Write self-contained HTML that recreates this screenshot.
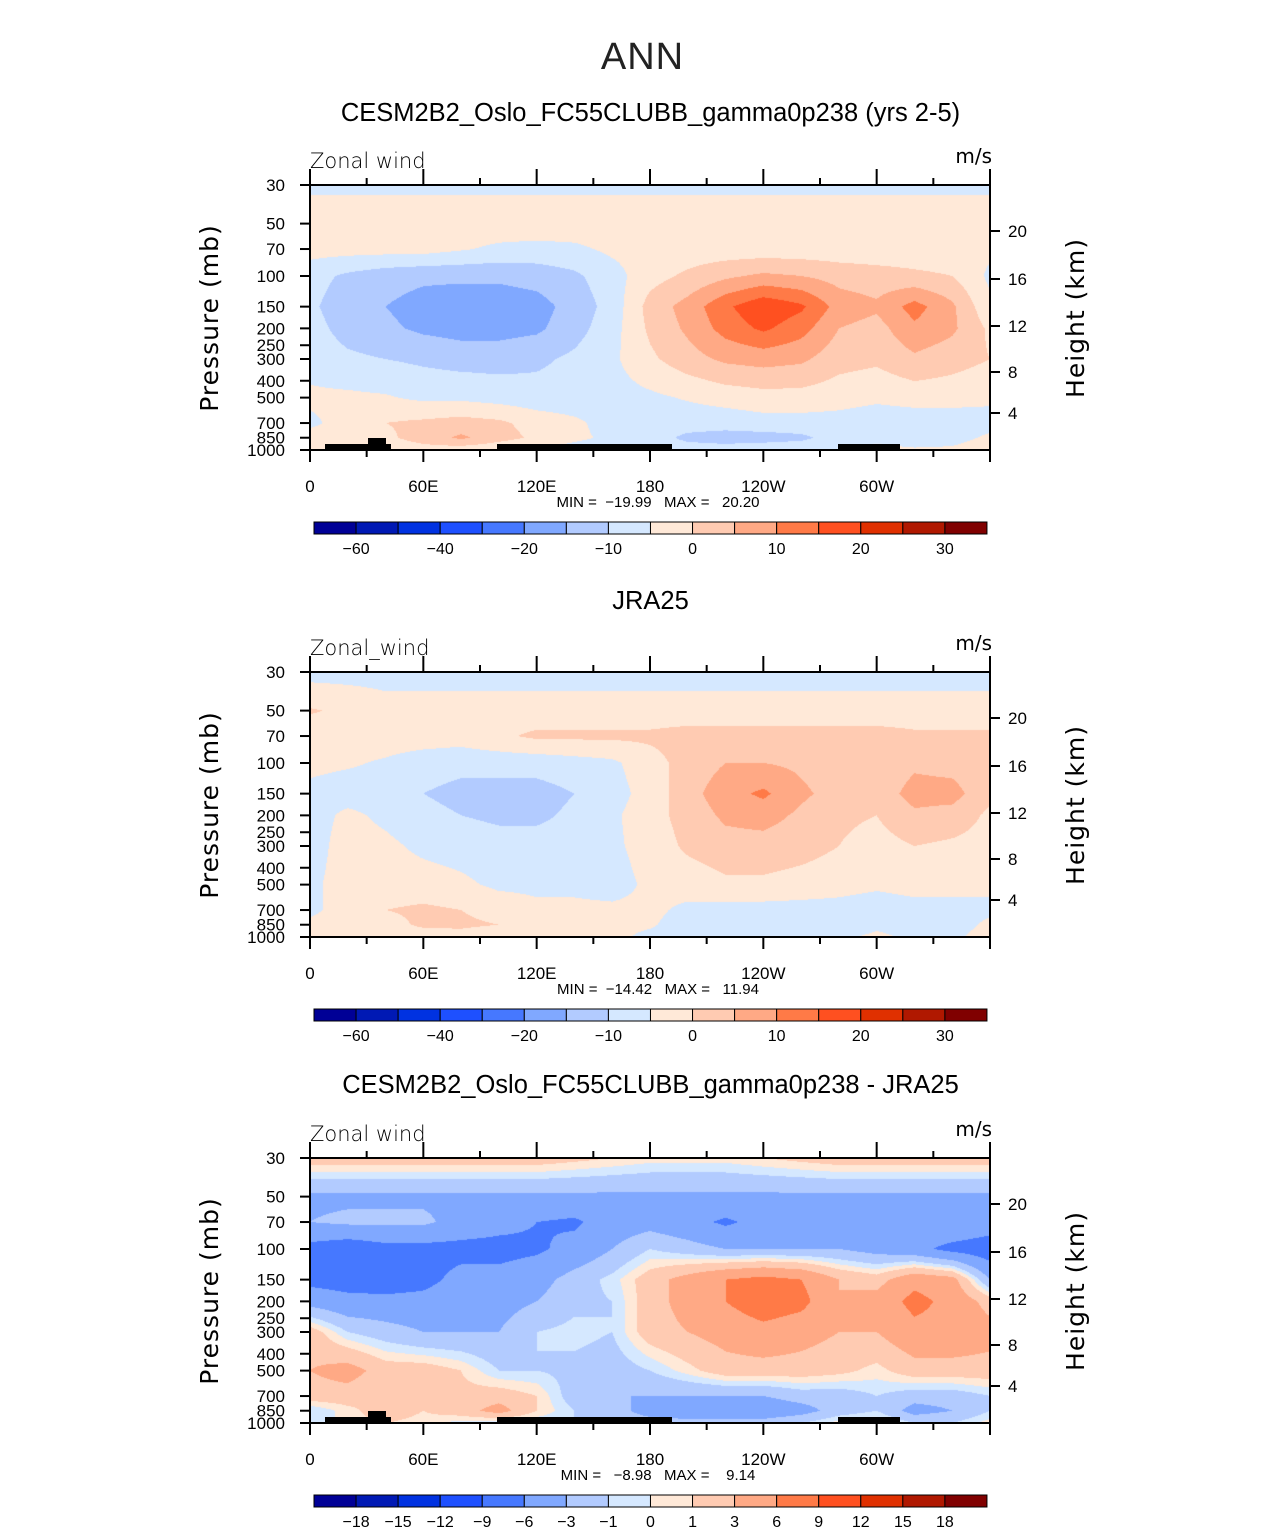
<!DOCTYPE html>
<html><head><meta charset="utf-8">
<style>
body{margin:0;background:#fff;width:1285px;height:1531px;position:relative;overflow:hidden;font-family:"Liberation Sans",sans-serif;}
.t{position:absolute;white-space:nowrap;color:#000;}
canvas{position:absolute;}
svg{position:absolute;left:0;top:0;}
svg text{white-space:pre;}
</style></head>
<body>
<div class="t" style="left:0;width:1285px;text-align:center;top:36px;font-size:38px;color:#222;letter-spacing:1px;">ANN</div>
<div class="t" style="left:0;width:1301px;text-align:center;top:99px;font-size:25.5px;">CESM2B2_Oslo_FC55CLUBB_gamma0p238 (yrs 2-5)</div>
<div class="t" style="left:0;width:1301px;text-align:center;top:587px;font-size:25.5px;">JRA25</div>
<div class="t" style="left:0;width:1301px;text-align:center;top:1071px;font-size:25.5px;">CESM2B2_Oslo_FC55CLUBB_gamma0p238 - JRA25</div>
<canvas id="c0" width="680" height="265" style="left:310px;top:185px"></canvas>
<canvas id="c1" width="680" height="265" style="left:310px;top:672px"></canvas>
<canvas id="c2" width="680" height="265" style="left:310px;top:1158px"></canvas>
<svg id="ov" width="1285" height="1531"></svg>
<script>
const lons=[0,20,40,60,80,100,120,140,160,180,200,220,240,260,280,300,320,340,360];
const plevs=[30,50,70,100,150,200,300,500,700,850,1000];
const colors=['#000096','#0019b4','#0032e1','#1e50ff','#4678ff','#80a8ff','#b2cbff','#d5e8ff','#ffe9d8','#ffcbb2','#ffa985','#ff7a47','#ff5020','#e03000','#b01800','#800000'];
const meanLevels=[-35,-30,-25,-20,-15,-10,-5,0,5,10,15,20,25,30,35];
const diffLevels=[-18,-15,-12,-9,-6,-3,-1,0,1,3,6,9,12,15,18];
const meanLabels=['−60','−40','−20','−10','0','10','20','30'];
const meanLabelIdx=[1,3,5,7,9,11,13,15];
const diffLabels=['−18','−15','−12','−9','−6','−3','−1','0','1','3','6','9','12','15','18'];
const model=[
[-1,-1,-1,-1,-1,-1,-1,-1,-1,-1,-1,-1,-1,-1,-1,-1,-1,-1,-1],
[3,3,3,3,3,3,3,3,3,3,3,3,3,3,3,3,3,3,3],
[2,2,2,2,0.5,-1,-1.5,-1,1,2,2,2,2,2,2,2,2,2,1],
[-3,-6,-8,-9,-9,-9,-8,-6,-2,3,6,9,11,10,8,7,6,5,-1],
[-4,-8,-10,-12,-13,-13,-12,-8,-3,7,12,19,24,21,13,11,17,11,1],
[-3,-7,-9,-11,-12,-12,-11,-7,-2,6,11,17,21,17,10,8,14,11,4],
[-2,-4,-5,-6,-7,-7,-6,-4,-1,4,8,11,12,11,7,6,9,7,5],
[1,1,0.5,-1,-1,-2,-3,-3,-2,-1,0.5,2,3,3,2,1,2,2,1],
[-1,2,5,6,7,6,3,1,-2,-3,-3,-3,-2,-2,-2,-3,-3,-3,-2],
[2,2,4,7,11,7,4,1,-1,-3,-6,-7,-7,-6,-3,-2,-4,-2,1],
[3,2,2,3,2,1,-1,-2,-2,-3,-3,-3,-2,-2,-1,2,1,1,3]];
const obs=[
[-2,-2,-2,-2,-2,-2,-2,-2,-2,-2,-2,-2,-2,-2,-2,-2,-2,-2,-2],
[5.5,4,2,2,2,2,2,2,2,2,2,2,2,2,2,2,2,2,2],
[2,2,2,2,2,4,6,6,6,6,7,7,7,7,7,7,6,6,6],
[1,0.5,-0.5,-2,-3,-3,-3,-2,-1,3,7,10,10,9,7,6,9,8,6],
[-1,-2,-2,-5,-7,-7,-7,-5,-2,2,8,13,16,11,8,7,12,12,6],
[-2,1,-1,-3,-5,-6,-6,-4,-1,3,7,11,12,9,6,5,9,8,4],
[-2,2,1,-1,-2,-3,-3,-3,-1,2,6,8,8,7,5,3,5,4,3],
[-1,2,2,2,1,-1,-1,-1,-2,1,2,4,4,3,2,1,2,2,1],
[-1,2,5,6,5,3,1,1,1,1,-1,-2,-2,-2,-2,-3,-2,-2,-1],
[1,2,3,6,6,5,4,1,1,0.5,-2,-3,-3,-3,-3,-1,-2,-2,1],
[4,2,1,2,3,1,2,1,1,-1,-2,-2,-2,-2,-1,1,-1,-1,2]];
const diff=[
[2,2,2,2,2,2,2,1.5,1,0.5,0.5,0.5,1,1.5,2,2,2,2,2],
[-3.5,-3.5,-3.5,-3.5,-3.5,-3.5,-3.5,-3.5,-3.5,-3.5,-3.5,-3.5,-3.5,-3.5,-3.5,-3.5,-3.5,-3.5,-3.5],
[-3,-2.5,-2.5,-2.5,-4,-5,-6,-6.5,-4.5,-4,-5,-6.5,-5,-4,-4,-4,-4,-3,-4],
[-7,-8,-7,-7,-7,-7,-6.5,-5,-3,-1,-2,-3,-3,-3,-3,-4,-5,-7,-8],
[-7,-7.5,-8,-7,-5,-5,-4,-2,-0.5,2,4,6,7,6,3,2,5,4,-3],
[-4,-5,-5,-5,-4,-4,-3,-1.5,-1,2,4,6,8,7,3,4,7,5,2],
[2,-1,-2,-3,-3,-3,-1,-0.5,-1,2,3,4,5,4,3,3,5,5,4],
[3,4,2,2,1,-1,-1,-1.5,-2,-1,0.5,2,2,2,1.5,0.5,2,2,2],
[2,2,1,2,1.5,2,1,-2,-3,-3,-3,-3,-3,-2,-2,-1,-2,-2,-1],
[-1,0.5,2,1,2,4,1,-1,-2,-4,-5,-5,-5,-4,-2,-1,-4,-3,-1],
[-1,0.5,1,0.5,-0.5,-1,-1,-1,-2,-2,-2,-2,-2,-1,0.5,1,-1,-1,0.5]];

const W=680,H=265,LN=Math.log(1000/30);
function xOf(lon){return lon/360*W;}
function yOf(p){return H*Math.log(p/30)/LN;}
function hex(c){return [parseInt(c.slice(1,3),16),parseInt(c.slice(3,5),16),parseInt(c.slice(5,7),16)];}
const rgb=colors.map(hex);
function field(data,lon,p){
  let i=Math.min(Math.floor(lon/20),17),fx=(lon-lons[i])/20;
  let lp=Math.log(p),j=0;
  while(j<plevs.length-2&&Math.log(plevs[j+1])<lp)j++;
  let a=Math.log(plevs[j]),b=Math.log(plevs[j+1]),fy=(lp-a)/(b-a);
  fy=Math.max(0,Math.min(1,fy));
  const v00=data[j][i],v10=data[j][i+1],v01=data[j+1][i],v11=data[j+1][i+1];
  return (v00*(1-fx)+v10*fx)*(1-fy)+(v01*(1-fx)+v11*fx)*fy;
}
function draw(id,data,levels){
  const cv=document.getElementById(id),ctx=cv.getContext('2d');
  const img=ctx.createImageData(W,H);
  for(let y=0;y<H;y++){
    const p=30*Math.exp((y+0.5)/H*LN);
    for(let x=0;x<W;x++){
      const v=field(data,(x+0.5)/W*360,p);
      let k=0;while(k<levels.length&&v>=levels[k])k++;
      const c=rgb[k],o=(y*W+x)*4;
      img.data[o]=c[0];img.data[o+1]=c[1];img.data[o+2]=c[2];img.data[o+3]=255;
    }
  }
  ctx.putImageData(img,0,0);
}
draw('c0',model,meanLevels);draw('c1',obs,meanLevels);draw('c2',diff,diffLevels);

const ov=document.getElementById('ov');const NS='http://www.w3.org/2000/svg';
function el(tag,attrs,name,txt){const e=document.createElementNS(NS,tag);for(const k in attrs)e.setAttribute(k,attrs[k]);


if(txt!==undefined)e.textContent=txt;ov.appendChild(e);return e;}
const pLabels=[30,50,70,100,150,200,250,300,400,500,700,850,1000];
const hKm=[20,16,12,8,4],hOff=[46,94,141,187,228];
const xt=[0,60,120,180,240,300],xtl=['0','60E','120E','180','120W','60W'];
const panels=[{top:185,mm:'MIN =  −19.99   MAX =   20.20',cb:522,lab:'Zonal wind',diffp:false,topo:true},
{top:672,mm:'MIN =  −14.42   MAX =   11.94',cb:1009,lab:'Zonal_wind',diffp:false,topo:false},
{top:1158,mm:'MIN =   −8.98   MAX =    9.14',cb:1495,lab:'Zonal wind',diffp:true,topo:true}];
panels.forEach((P,pi)=>{
  const T=P.top,L=310;
  if(P.topo){
    el('rect',{x:L+15,y:T+259,width:66,height:6,fill:'#000'},'topography');
    el('rect',{x:L+58,y:T+253,width:18,height:12,fill:'#000'},'topography');
    el('rect',{x:L+187,y:T+259,width:175,height:6,fill:'#000'},'topography');
    el('rect',{x:L+528,y:T+259,width:62,height:6,fill:'#000'},'topography');
  }
  el('rect',{x:L,y:T,width:W,height:H,fill:'none',stroke:'#000','stroke-width':2},'plot-frame');
  pLabels.forEach(p=>{const y=T+yOf(p);
    el('line',{x1:L-10,x2:L,y1:y,y2:y,stroke:'#000','stroke-width':2},'y-tick');
    el('text',{x:L-25,y:y+6,'text-anchor':'end','font-size':17,'font-family':'Liberation Sans'},'y-tick-label',String(p));});
  hKm.forEach((h,i)=>{const y=T+hOff[i];
    el('line',{x1:L+W,x2:L+W+10,y1:y,y2:y,stroke:'#000','stroke-width':2},'height-tick');
    el('text',{x:L+W+18,y:y+6,'font-size':17,'font-family':'Liberation Sans'},'height-tick-label',String(h));});
  for(let lon=0;lon<=360;lon+=30){const x=L+xOf(lon),maj=lon%60==0;
    el('line',{x1:x,x2:x,y1:T+H,y2:T+H+(maj?12:7),stroke:'#000','stroke-width':2},'x-tick');
    el('line',{x1:x,x2:x,y1:T,y2:T-(maj?16:7),stroke:'#000','stroke-width':2},'x-tick-top');}
  xt.forEach((lon,i)=>el('text',{x:L+xOf(lon),y:T+H+42,'text-anchor':'middle','font-size':17,'font-family':'Liberation Sans'},'x-tick-label',xtl[i]));
  el('text',{x:L+xOf(180)+8,y:T+H+57,'text-anchor':'middle','font-size':15,'font-family':'Liberation Sans'},'min-max-label',P.mm);
  el('text',{x:L,y:T-17,'font-size':21,'font-family':'DejaVu Sans','font-weight':'300'},'variable-label',P.lab);
  el('text',{x:L+W+2,y:T-22,'text-anchor':'end','font-size':20,'font-family':'DejaVu Sans'},'units-label','m/s');
  el('text',{x:0,y:0,transform:`translate(218,${T+133}) rotate(-90)`,'text-anchor':'middle','font-size':25,'font-family':'DejaVu Sans','letter-spacing':'1'},'y-axis-title','Pressure (mb)');
  el('text',{x:0,y:0,transform:`translate(1084,${T+133}) rotate(-90)`,'text-anchor':'middle','font-size':25,'font-family':'DejaVu Sans','letter-spacing':'1'},'right-axis-title','Height (km)');
  const cx=314,bw=42.06,cy=P.cb;
  colors.forEach((c,i)=>el('rect',{x:cx+i*bw,y:cy,width:bw,height:12,fill:c,stroke:'#000','stroke-width':1},'colorbar-box'));
  if(P.diffp){diffLabels.forEach((t,i)=>el('text',{x:cx+(i+1)*bw,y:cy+32,'text-anchor':'middle','font-size':16,'font-family':'Liberation Sans'},'colorbar-label',t));}
  else{meanLabels.forEach((t,i)=>el('text',{x:cx+meanLabelIdx[i]*bw,y:cy+32,'text-anchor':'middle','font-size':16,'font-family':'Liberation Sans'},'colorbar-label',t));}
});
</script>
</body></html>
